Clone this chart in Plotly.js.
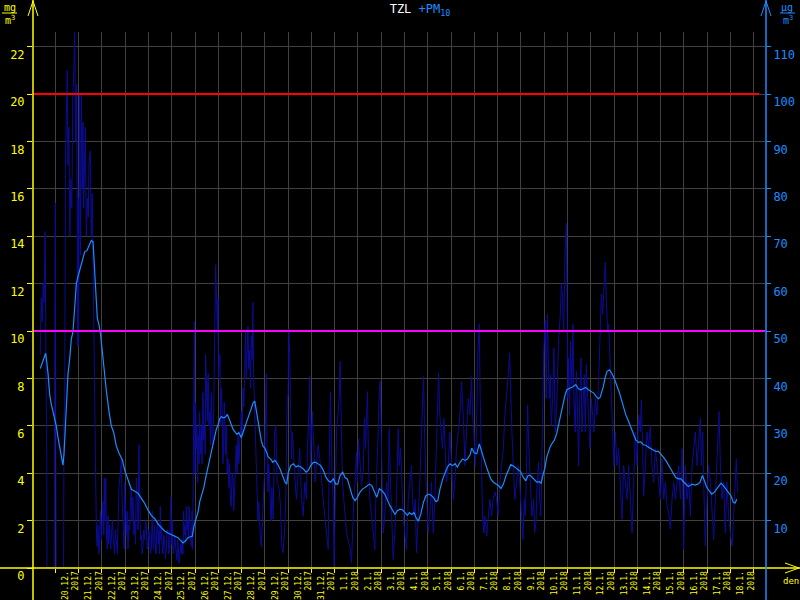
<!DOCTYPE html>
<html>
<head>
<meta charset="utf-8">
<script src="https://cdn.plot.ly/plotly-3.0.1.min.js"></script>
<style>html,body{margin:0;padding:0;background:#000;}#chart{width:800px;height:600px;}</style>
</head>
<body>
<div id="chart"></div>
<script>
// ---------- DATA ----------
// x: hours after the first day grid line, y: PM10 in ug/m3 (right axis)
const pmHourly = [
[-15.5,45],[-14.5,57],[-13.5,52],[-12.5,60],[-11.5,56],[-10.5,71],[-9.5,40],[-8.8,24],[-8.6,0],[-1.2,0],[-0.7,39],[0,77],[0.8,0],
[8.5,0],[9,31],[9.7,34],[10.5,87],[11.5,100],[12.3,105],[13,85],[14,93],[15,70],[16,82],[17,76],[18,99],[19,104],[20,113],[21,90],[22,102],[23,47],[23.7,78],
[24,47],[25,100],[26,66],[26.8,100],[27.8,80],[28.5,94],[29.2,76],[30,85],[30.9,93],[32,70],[33,78],[34,74],[34.7,85],[36,88],[37.1,70],[38.1,79],[38.8,64],[39.9,54],[40.9,29],[41.6,19],[42.3,9],[43,4.5],[44,9],[45,3],[45.7,5],[46.5,12],[47.4,6],
[48,9],[49,14],[50,7],[50.5,19],[51,10],[52,19],[52.6,9],[53.5,4],[54.3,11],[55,5],[56,9],[57,4],[58,7],[58.8,10],[60,6],[61,3],[62,8],[63,5],[64,3],[65,12],[65.6,17],[67,20],[68,23],[69,13],[70,9],[71,4],[71.5,18],
[72.5,8],[73.2,7],[74,12],[74.9,4],[75.8,9],[76.6,8],[77.5,14],[78.3,17],[79,10],[80,15],[81,7],[81.8,10],[82.7,5],[83.5,19],[84.5,14],[85.3,8],[86.2,26],[86.9,10],[87.8,6],[88.6,7],[89.5,3],[90.4,4.5],[91.2,8],[92.1,6],[93,10],[93.8,9],[94.6,4],[95.5,4.5],
[96.3,8],[97.2,7],[98,3],[99,4],[100,12],[100.7,5],[101.4,4],[102,9],[102.7,8],[103.4,3],[104,3],[104.8,9],[105.5,10],[106.2,5],[106.8,8],[107.5,3],[108.2,13],[109,6],[109.6,9],[110.3,4],[111,3],[111.8,7],[112.7,6],[113.5,2],[114.4,4],[115.2,8],[116.1,8],[117,3],[117.9,5],[118.5,10],[119.2,15],
[120,5],[120.6,10],[121.3,4],[122,3],[123,7],[124,4.5],[124.7,2],[125.4,1.6],[126,6],[126.8,4.5],[127.5,1],[128.2,1.2],[129,5],[129.9,3],[130.5,6],[131.6,3],[132.3,12],[133,7],[133.7,9],[134.4,5],[135,13],[135.8,8],[136.7,10],[137.2,6],[137.8,13],[138.5,9],[139.2,7],[140.2,4.5],[141,12],[141.6,4],[142.2,33],[142.6,20],[143.3,52],
[144,20],[144.7,35],[145.3,25],[146,30],[146.8,18],[147.5,28],[148.2,22],[148.8,33],[149.6,24],[150.5,30],[151.3,22],[152.2,37],[153,27],[153.9,30],[154.5,24],[155,45],[155.7,40],[156.2,32],[156.7,31],[157.2,40],[157.7,41],[158.4,30],[159.1,33],[160,26],[160.8,37],[161.6,28],[162.5,26],[163.4,35],[164.2,45],[165.3,64],[166,59],[166.5,55],[167,50],[167.7,57],[168.2,40],[168.7,42],[169.7,45],[170.4,30],[171.1,38],[172.1,33],[172.8,22],[173.5,26],[174.2,35],[174.6,32],[175.5,24],[176.3,30],[177.2,20],[178,23],[179,17],[179.7,22],[180.5,14],[181.4,13],[182.3,20],[183.1,19],[184,12],[184.9,17],[185.7,22],[186.6,26],[187.4,20],[188.3,28],[189.2,22],[190,26],[190.8,30],[191.7,33],[192.6,28],[193.5,38],[194.3,34],[195.2,45],[196.2,50],[196.9,40],[197.6,48],[198.6,51],[199.4,42],[200.3,46],[201.2,38],[202,49],[203,44],[203.7,56],[204.4,41],[205.4,33],[206.5,26],[207.2,20],[207.9,15],[208.9,10],[209.7,14],[210.6,9],[211.5,6],[212.4,4.5],[213.2,10],[214.1,13],[215,17],[215.8,21],[216.7,32],[217.5,41],[218.3,25],[219.2,16],[220,22],[220.9,19],[221.8,12],[222.6,10],[223.3,17],
[224.5,10.3],[226.2,28.7],[227.3,30.1],[228.7,18.1],[230.7,16.7],[232.1,13.1],[233.5,4.6],[234.8,3.2],[236.2,7.4],[237.6,14.5],[239,35.8],[240,36.5],[240.7,50.4],[241.7,44.3],[242.4,28.7],[243.4,23],[244.5,28.7],[245.8,21.6],[247.2,18.1],[248.6,14.5],[250.3,19.5],[252,25.2],[253.8,14.5],[255.5,11],[257.2,18.1],[258.9,14.5],[259.9,25.2],[261,30.1],[262.3,40.4],[263,21.6],[264.1,28.7],[265.1,33],[265.8,28.7],[266.8,25.2],[267.8,18.1],[269.2,21.6],[270.9,25.9],[272.7,23],[274.4,18.1],[276.1,14.5],[277.8,11],[279.5,7.4],[281.3,3.9],[282.3,21.6],[283.7,37.2],[285,21.6],[286.4,14.5],[287.4,0.4],[288.8,18.1],[289.9,28.7],[291.6,33],[292.6,35.8],[293.6,43.6],[294.7,28.7],[296,18.1],[297.4,14.5],[298.8,11],[300.2,7.4],[301.9,6],[303.6,4.6],[305.3,1.1],[306.4,7.4],[307.7,14.5],[309.1,18.1],[310.5,24.5],[311.5,18.1],[312.5,27.3],[313.9,23],[315.6,17.4],[317.4,20.2],[318.7,31.6],[319.8,25.2],[320.8,33],[321.8,37.2],[322.9,21.6],[324.2,14.5],[326,11],[327.7,7.4],[329.4,3.9],[330.4,14.5],[331.8,21.6],[332.8,28.7],[333.9,37.2],[334.9,39.4],[335.9,28.7],[337,14.5],[338,7.4],[339.7,11],[341.4,18.1],[343.1,14.5],[344.2,29.4],[345.5,18.1],[346.9,11],[348.3,1.8],[350,7.4],[351.7,14.5],[353.5,29.4],[354.5,21.6],[355.9,25.2],[357.2,17.4],[358.6,11],[360.3,7.4],[362,3.9],[363.8,14.5],[365.5,18.1],[367.2,21.6],[368.2,14.5],[369.6,11],[371,14.5],[372.4,3.2],[374.1,11],[375.8,18.1],[377.5,28.7],[378.6,35.8],[379.6,40.4],[380.6,28.7],[381.6,21.6],[382.7,14.5],[384.4,7.4],[386.1,11],[387.8,18.1],[389.6,7.4],[391.3,14.5],[393,28.7],[394,35.8],[395.1,41.1],[396.4,32.3],[397.8,28.7],[399.2,25.2],[400.6,31.6],[401.9,24.5],[403.3,18.1],[405,21.6],[406.7,28.7],[408.5,21.6],[410.2,14.5],[411.9,18.1],[413.6,25.2],[415.3,28.7],[417.1,32.3],[418.8,39.4],[419.8,35.8],[421.2,28.7],[422.2,21.6],[423.9,28.7],[425.7,35.8],[427.4,32.3],[429.1,40.4],[430.1,32.3],[431.5,28.7],[432.9,21.6],[434.2,28.7],[435.6,45.7],[437,51.4],[438,35.8],[439.4,21.6],[440.4,11],[441.8,7.4],[442.8,11],[444.6,6.7],[446.3,11],[448,14.5],[449.7,11],[451.4,14.5],[453.2,16],[454.9,14.5],[456.6,11],[458.3,18.1],[460,21.6],[461.8,25.2],[463.5,32.3],[465.2,35.8],[466.9,40.8],[468.3,45.4],[469.3,35.8],[470.7,28.7],[472.1,21.6],[473.8,14.5],[475.5,18.1],[477.2,21.6],[478.9,17.4],
[481,8.9],[482.1,6],[483.4,14.5],[484.5,11],[485.5,18.1],[486.9,34.4],[487.9,26.6],[488.9,21.6],[490.3,14.5],[491.3,11],[493.1,14.5],[494.1,7.4],[495.5,9.6],[496.5,16.7],[498.2,22.3],[499.3,14.5],[500.6,11],[501.7,28.7],[502.7,36.5],[503.7,46.5],[505.1,52.2],[506.1,35.8],[507.2,53.5],[508.2,44.3],[509.2,35.8],[510.3,40.8],[511.3,30.1],[512.7,35.8],[514,46.5],[515.4,28.7],[517.1,35.8],[518.8,47.9],[520.6,53.5],[521.6,60],[522.6,57.8],[524,50],[525,64.2],[525.7,68.4],[526.8,72.7],[527.8,50],[528.5,35.8],[529.2,44.3],[530.2,32.3],[531.2,47.9],[532.6,38.7],[533.6,51.4],[534.6,35.8],[536,28.7],[537.1,41.5],[538.4,32.3],[539.5,21.6],[540.5,34.4],[541.9,44.3],[542.9,28.7],[543.9,34.4],[545.3,40.8],[546.4,28.7],[547.4,42.9],[548.8,35.8],[549.8,32.3],[551.2,25.2],[552.5,35.8],[553.9,32.3],[555.3,28.7],[556.7,35.8],[558.4,32.3],[560.1,39.4],[561.8,51.4],[562.9,57.8],[564.2,53.5],[565.6,60.6],[567,64.5],[568,57],[569.4,50],[570.4,51.4],[572.1,42.9],[573.9,32.3],[574.9,28.7],[575.9,21.6],[577.3,28.7],[579,21.6],[580.7,25.2],[582.5,18.1],[584.2,10.3],[585.9,21.6],[587.6,18.1],[589.3,14.5],[591,21.6],[592.8,14.5],[594.5,7.4],[596.2,18.1],[597.9,28.7],[599.6,21.6],[601.4,32.3],[603.1,28.7],[604.1,35.5],[605.5,25.2],[606.5,15.2],[608.2,21.6],[610,28.7],[611.7,25.2],[613.4,30.1],[615.1,21.6],[616.8,18.1],[618.6,25.2],[620.3,21.6],[622,18.1],[623.7,14.5],[625.4,23],[627.2,14.5],[628.9,18.1],[630.6,13.1],[632.3,11.7],[634,8.2],[635.8,14.5],[637.5,18.1],[639.2,14.5],[640.9,18.1],[642.6,21.6],[644.4,14.5],[646.1,25.2],[647.8,3.9],[649.5,21.6],[651.2,14.5],[653,18.1],[654.7,11],[656.4,21.6],[658.1,25.2],[659.8,28.7],[661.6,21.6],[663.3,26.6],[665,31.6],[666,21.6],[667.4,28.7],[668.4,18.1],[670.1,4.6],[671.8,14.5],[673.5,21.6],[675.3,18.1],[677,11],[678.7,6],[680.4,14.5],[682.2,25.2],[683.2,30.1],[684.2,33],[685.6,21.6],[687.3,14.5],[689,18.1],[690.7,7.4],[692.4,18.1],[694.1,11],[695.9,7.4],[697.6,4.6],[699.3,11],[701,18.1],[702,23],[703.1,16]
];

// 24 h running average of PM10 (ug/m3)
const pmAverage = [
[-15.5,42.1],[-12.7,43.6],[-9.9,45.3],[-7.5,41],[-5.8,36.6],[-4.1,34.5],[-1.6,32.3],[1.0,30],[2.8,27.5],[4.5,25.7],[6.2,23.9],[7.9,21.7],[9.0,24.2],[10.3,30],[11.3,35.2],[13.1,41],[14.8,44],[16.5,48.3],[18.2,49.8],[20.0,54.2],[21.7,60],[23.4,61.5],[25.2,63],[26.8,64.4],[28.6,65.8],[30.3,66.7],[32.7,67],[34.7,68],[37.1,69.1],[38.9,68.8],[39.9,65.8],[41.7,58.5],[43.3,52.7],[45.1,51.2],[46.8,49],[48.5,45.4],[50.2,41.8],[52.6,37.4],[55.4,33],[57.7,30],[60.2,28.6],[62.9,25.7],[65.7,24.2],[69.1,22.8],[71.6,20.6],[75,18.4],[78.4,16.6],[81.9,16.2],[85.3,15.8],[88.7,14.7],[92.2,13.6],[95.6,12.2],[99,11.1],[102.5,10.4],[105.9,9.3],[109.3,8.5],[112.8,7.8],[116.2,7.4],[119.6,7.1],[123.1,6.7],[126.5,6.4],[128.3,6],[131.7,5.3],[134.4,5.8],[136.8,6.4],[139.2,6.6],[141.2,6.7],[143,8.9],[145.4,10.4],[147.1,11.8],[148.9,14],[151.2,15.5],[153,16.9],[155.1,19.1],[157.4,21.3],[160.2,23.5],[162.6,25.7],[164.3,27.9],[166,29.3],[167.7,30.1],[169.5,31.5],[171.1,31.9],[173.6,31.7],[175.7,31.9],[177.3,32.4],[179.1,31.5],[181.5,30.4],[183.2,29.3],[185.6,28.6],[187.3,28.2],[189.1,28.6],[190.7,27.9],[191.8,27.5],[194.2,29],[196.9,30.8],[199.7,32.3],[202.1,33.7],[203.8,34.8],[205.6,35.2],[207.2,33],[209,30.8],[210.7,28.6],[212.4,26.8],[214.1,25.7],[215.9,25.3],[217.5,24.6],[219.3,23.5],[222.7,22.8],
[224.1,22.3],[226.5,22.7],[228.9,22],[231.7,20.9],[234.4,19.5],[236.8,18.1],[238.6,17.7],[240.2,20.2],[242.7,21.6],[245.4,22],[248.2,21.3],[250.5,21.6],[253,21.3],[255.7,20.9],[258.5,20.2],[260.8,20.6],[263.3,21.6],[266,22.3],[268.5,22.3],[271.2,22],[273.6,21.6],[276.3,20.6],[279.1,19.1],[281.5,18.4],[283.9,18.1],[286.6,18.8],[289.1,17.7],[291.2,17.7],[293.5,19.5],[296.3,20.2],[298.7,19.1],[301,18.8],[303.8,16.7],[306.6,14.9],[309,14.2],[311.4,14.9],[314.1,16],[316.9,16.7],[319.3,17],[321.7,17.4],[323.7,17.7],[326.2,17.4],[328.6,16.3],[331.4,14.9],[334,16.7],[336.8,16.3],[339.6,15.6],[342.3,14.2],[345.1,13.1],[347.9,12.1],[350.2,11.3],[352.6,12.1],[355.4,12.4],[357.8,12.3],[360.5,11.7],[362.9,11.1],[365,11.7],[367.4,11.3],[369.8,11.7],[371.9,10.6],[374.3,9.9],[376.7,11.3],[379.4,13.8],[381.9,15.2],[384.6,15.6],[387,15.4],[389.7,14.9],[392.5,14],[394.3,14.2],[396.6,16.7],[399.4,18.8],[401.8,20.2],[404.2,21.3],[406.9,22],[409.7,21.6],[412.1,22],[414.5,21.3],[417.2,22.3],[420,23],[422.4,22.7],[424.8,23],[427.6,23.9],[429.3,25.3],[431.7,24.3],[434.5,24.1],[437.1,26.2],[438.6,25.2],[441.3,23],[444,21.6],[446.4,20.2],[448.9,18.8],[451.6,18.1],[454.4,17.7],[456.7,17.4],[459.5,16.8],[461.9,17.7],[464.7,19.5],[467,20.6],[469.5,21.8],[472.2,21.5],[475,21.1],[477.3,20.6],[479.3,20.4],
[482.5,19.1],[485,18.4],[487,19.4],[489.4,19.6],[491.8,19.1],[494.6,18.4],[496.3,18.1],[498.7,18.2],[500.8,17.9],[503.1,19.9],[504.9,21.3],[506.6,23.4],[508.3,24.5],[510,25.5],[511.8,26.2],[514.5,27],[516.9,28.4],[518.6,30.1],[520.3,31.9],[522.1,33.7],[524.5,35.5],[525.5,36.5],[527.3,37.6],[530.7,37.9],[534.1,38.3],[536.5,38.7],[539.2,37.8],[541.7,37.6],[544,37.9],[546.8,38.1],[549.5,37.6],[552.3,37.2],[555.1,36.9],[557.5,36.2],[559.8,35.7],[561.6,36],[563.3,37.2],[565,38.3],[566.7,40.1],[568.8,41.5],[571.2,41.8],[573.6,41.1],[576,40.1],[578.8,38.7],[581.2,37.2],[583.2,35.8],[585.6,34],[588.1,32.3],[590.8,31],[593.6,29.4],[595.9,28],[598.4,27],[601.1,26.5],[603.5,26.6],[606.2,26],[608.7,25.9],[611.4,25.5],[614.2,25.2],[616.5,25],[619,24.6],[621.7,24.6],[624.2,24.1],[626.8,23.4],[629.3,22.7],[632,21.6],[634.5,20.9],[637.2,19.9],[639.6,19.1],[642.3,18.8],[645.1,18.8],[647.5,18.2],[649.9,17.7],[652.6,17.2],[654.4,17.4],[656.7,17.7],[659.5,17.5],[662.3,17.7],[664.7,18.1],[667.1,19.5],[669.1,18.4],[671.6,17],[674,16.3],[676.7,15.6],[679.4,16],[681.9,16.7],[684.3,17.4],[686.3,17.9],[688.7,17.4],[691.2,16.7],[693.9,16.1],[696.6,15.2],[699,13.8],[700.8,13.7],[702.5,14.5]
];

const dayLabels = ['20.12.','21.12.','22.12.','23.12.','24.12.','25.12.','26.12.','27.12.','28.12.','29.12.','30.12.','31.12.',
  '1.1.','2.1.','3.1.','4.1.','5.1.','6.1.','7.1.','8.1.','9.1.','10.1.','11.1.','12.1.','13.1.','14.1.','15.1.','16.1.','17.1.','18.1.'];
const yearLabels = ['2017','2017','2017','2017','2017','2017','2017','2017','2017','2017','2017','2017',
  '2018','2018','2018','2018','2018','2018','2018','2018','2018','2018','2018','2018','2018','2018','2018','2018','2018','2018'];
const leftTicks = [0,2,4,6,8,10,12,14,16,18,20,22];        // mg/m3
const rightTicks = [10,20,30,40,50,60,70,80,90,100,110];    // ug/m3
const limitDaily = 50;    // ug/m3 (magenta)
const limitAlert = 100;   // ug/m3 (red)

// ---------- LAYOUT ----------
const YEL = '#ffff00', BLU = '#1a8cff', GRID = '#404040', MONO = 'DejaVu Sans Mono, monospace';
const ML = 33, MT = 32, PW = 732, PH = 536;
function fx(px){ return (px - ML) / PW; }
function fy(py){ return (MT + PH - py) / PH; }

const tickVals = [0];
const tickText = [' '];
for (let i = 0; i < dayLabels.length; i++) {
  tickVals.push((i + 1) * 24);
  tickText.push(dayLabels[i] + '<br>' + yearLabels[i]);
}

const traces = [
  // carrier for the left (mg/m3) axis, draws nothing
  { x: [0], y: [null], xaxis: 'x', yaxis: 'y', type: 'scatter', mode: 'lines', hoverinfo: 'skip', showlegend: false },
  { x: pmHourly.map(p => p[0]), y: pmHourly.map(p => p[1]), yaxis: 'y2', type: 'scatter', mode: 'lines',
    line: { color: '#0c0c96', width: 1 }, hoverinfo: 'skip' },
  { x: pmAverage.map(p => p[0]), y: pmAverage.map(p => p[1]), yaxis: 'y2', type: 'scatter', mode: 'lines',
    line: { color: BLU, width: 1.2 }, hoverinfo: 'skip' }
];

function seg(x0, y0, x1, y1, color, w) {
  return { type: 'line', xref: 'paper', yref: 'paper', x0: fx(x0), y0: fy(y0), x1: fx(x1), y1: fy(y1),
    line: { color: color, width: w || 1 }, layer: 'above' };
}
function pth(pts, color) {
  let d = pts.map((p, i) => (i ? 'L ' : 'M ') + fx(p[0]) + ' ' + fy(p[1])).join(' ');
  return { type: 'path', xref: 'paper', yref: 'paper', path: d, line: { color: color, width: 1 }, layer: 'above' };
}

const shapes = [
  { type: 'line', xref: 'paper', yref: 'y2', x0: 0, x1: fx(759), y0: limitAlert, y1: limitAlert, line: { color: '#ff0000', width: 2 }, layer: 'above' },
  { type: 'line', xref: 'paper', yref: 'y2', x0: 0, x1: fx(765), y0: limitDaily, y1: limitDaily, line: { color: '#ff00ff', width: 2 }, layer: 'above' },
  seg(0, 568, 800, 568, YEL, 1.5),
  seg(33, 0, 33, 600, YEL, 1.5),
  seg(766, 0, 766, 600, BLU, 1.5),
  pth([[28,16],[33,1],[38,16]], YEL),
  pth([[761,16],[766,1],[771,16]], BLU),
  pth([[785,563],[799,568],[785,573]], YEL),
  seg(2, 13, 17, 13, YEL, 1),
  seg(780, 13, 795, 13, BLU, 1)
];

const annotations = [
  { xref: 'paper', yref: 'paper', x: fx(10), y: fy(7), text: 'mg', showarrow: false, font: { family: MONO, size: 10, color: YEL }, xanchor: 'center', yanchor: 'middle' },
  { xref: 'paper', yref: 'paper', x: fx(10), y: fy(20), text: 'm<sup>3</sup>', showarrow: false, font: { family: MONO, size: 10, color: YEL }, xanchor: 'center', yanchor: 'middle' },
  { xref: 'paper', yref: 'paper', x: fx(787), y: fy(7), text: 'µg', showarrow: false, font: { family: MONO, size: 10, color: BLU }, xanchor: 'center', yanchor: 'middle' },
  { xref: 'paper', yref: 'paper', x: fx(788), y: fy(20), text: 'm<sup>3</sup>', showarrow: false, font: { family: MONO, size: 10, color: BLU }, xanchor: 'center', yanchor: 'middle' },
  { xref: 'paper', yref: 'paper', x: fx(791), y: fy(581), text: 'den', showarrow: false, font: { family: MONO, size: 9, color: YEL }, xanchor: 'center', yanchor: 'middle' }
];

const layout = {
  width: 800, height: 600,
  paper_bgcolor: '#000', plot_bgcolor: '#000',
  margin: { l: ML, r: 800 - ML - PW, t: MT, b: 600 - MT - PH, pad: 0 },
  showlegend: false,
  title: { text: 'TZL <span style="color:' + BLU + '">+PM<sub>10</sub></span>',
    font: { family: MONO, size: 12, color: '#ffffff' }, x: 0.525, xanchor: 'center', xref: 'container',
    y: 1 - 9 / 600, yanchor: 'middle', yref: 'container' },
  xaxis: { range: [-23, 731.6], tickmode: 'array', tickvals: tickVals, ticktext: tickText, tickangle: -90,
    tickfont: { family: MONO, size: 8, color: YEL }, ticks: 'outside', ticklen: 4, tickcolor: YEL, tickwidth: 1,
    showgrid: true, gridcolor: GRID, gridwidth: 1, zeroline: false, showline: false, ticklabelshift: -8,
    ticklabelstandoff: -5, fixedrange: true },
  yaxis: { range: [0, 22.616], tickmode: 'array', tickvals: leftTicks, ticks: 'outside', ticklen: 5, tickcolor: YEL,
    tickfont: { family: MONO, size: 12, color: YEL }, showgrid: true, gridcolor: GRID, gridwidth: 1, zeroline: false,
    showline: false, ticklabelshift: 8, fixedrange: true },
  yaxis2: { range: [0, 113.08], overlaying: 'y', side: 'right', tickmode: 'array', tickvals: rightTicks, ticks: 'outside',
    ticklen: 5, tickcolor: BLU, tickfont: { family: MONO, size: 12, color: BLU }, showgrid: false, zeroline: false,
    showline: false, ticklabelshift: 8, fixedrange: true },
  shapes: shapes,
  annotations: annotations
};

Plotly.newPlot('chart', traces, layout, { staticPlot: true, displayModeBar: false });
</script>
</body>
</html>
